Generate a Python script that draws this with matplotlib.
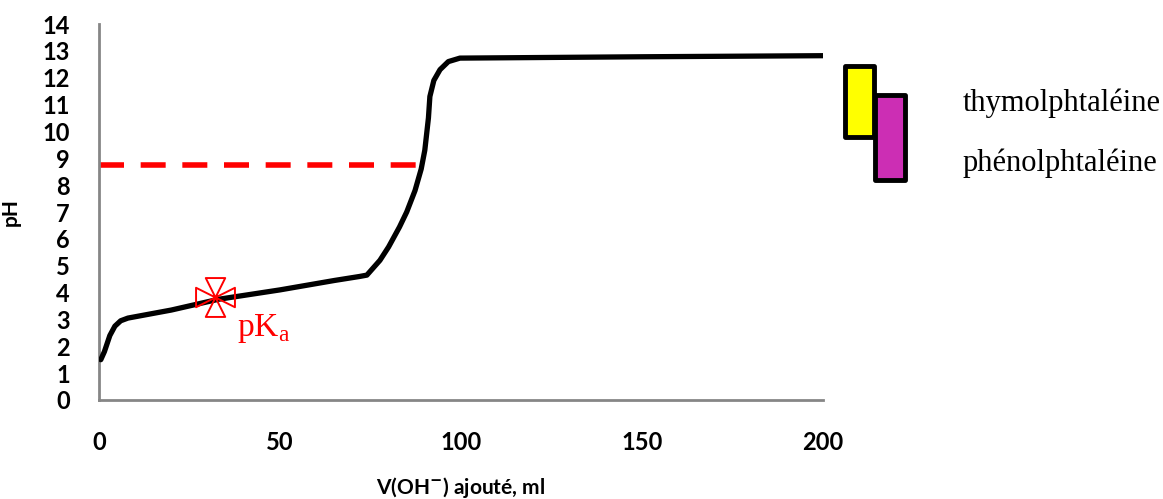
import matplotlib
matplotlib.use("Agg")
import matplotlib.pyplot as plt
from matplotlib.path import Path
from matplotlib.patches import Rectangle

# Data
volume = [0.5, 1.5, 3.0, 4.4, 6.0, 8.0, 20, 33, 50, 65, 72, 74, 77.6, 80, 83, 85, 87.3, 89, 90, 91, 91.4, 92.5, 94.2, 96.5, 99.7, 120, 150, 200]
ph = [1.5, 1.8, 2.4, 2.75, 2.95, 3.05, 3.35, 3.75, 4.1, 4.45, 4.6, 4.65, 5.2, 5.7, 6.44, 7.0, 7.8, 8.6, 9.3, 10.5, 11.3, 11.9, 12.3, 12.6, 12.73, 12.75, 12.78, 12.82]
equiv_ph = 8.75
equiv_v = 88
pka_v, pka_ph = 32, 3.83
indicators = ["thymolphtaléine", "phénolphtaléine"]
ind_low = [9.79, 8.19]
ind_high = [12.43, 11.35]
ind_colors = ["#FFFF00", "#CC2EB4"]
xticks = [0, 50, 100, 150, 200]
yticks = list(range(0, 15))

fig = plt.figure(figsize=(11.63, 4.99), dpi=100)
ax = fig.add_axes([0.0851, 0.1984, 0.6226, 0.7535])

ax.plot(volume, ph, color="black", lw=3.8, solid_capstyle="round", solid_joinstyle="round", zorder=3)
ax.plot([0, equiv_v], [equiv_ph, equiv_ph], color="#FF0000", lw=4, ls=(0, (4.5, 3)), zorder=2)

# pKa marker: four inward triangles
verts = []
codes = []
tris = [
    [(0, 0), (-0.5, 1), (0.5, 1)],
    [(0, 0), (-0.5, -1), (0.5, -1)],
    [(0, 0), (-1, 0.5), (-1, -0.5)],
    [(0, 0), (1, 0.5), (1, -0.5)],
]
for t in tris:
    verts += t + [t[0]]
    codes += [Path.MOVETO, Path.LINETO, Path.LINETO, Path.CLOSEPOLY]
marker_path = Path(verts, codes)
ax.plot([pka_v], [pka_ph], marker=marker_path, markersize=28, markerfacecolor="none",
        markeredgecolor="#FF0000", markeredgewidth=1.4, ls="none", zorder=4)
ax.text(pka_v + 6, pka_ph - 1.15, "pK$_\\mathregular{a}$", color="#FF0000", fontsize=24,
        family="Liberation Serif", ha="left", va="center", zorder=4)

ax.set_xlim(0, 200)
ax.set_ylim(0, 14)
ax.set_xticks(xticks)
ax.set_yticks(yticks)
ax.tick_params(length=0, labelsize=17)
ax.tick_params(axis="x", pad=22)
ax.tick_params(axis="y", pad=21)
for lab in ax.get_xticklabels() + ax.get_yticklabels():
    lab.set_fontweight("bold")
    lab.set_family("Lato")
for sp in ["top", "right"]:
    ax.spines[sp].set_visible(False)
for sp in ["left", "bottom"]:
    ax.spines[sp].set_color("#868686")
    ax.spines[sp].set_linewidth(2)

ax.set_ylabel("pH", fontsize=15, fontweight="bold", family="Lato")
ax.yaxis.set_label_coords(-0.108, 0.5)
fig.text(0.5 * (0.0851 + 0.7077), 0.024, "V(OH$^{\\mathbf{-}}$) ajouté, ml", fontsize=15,
         fontweight="bold", family="Lato", ha="center", va="center")

# Indicator bars
xs = [206, 214.4]
w = 8.2
for i, (lo, hi, c) in enumerate(zip(ind_low, ind_high, ind_colors)):
    r = Rectangle((xs[i], lo), w, hi - lo, facecolor=c, edgecolor="black", lw=3.5,
                  clip_on=False, zorder=5 - i, joinstyle="round")
    ax.add_patch(r)
fig.text(0.828, 0.794, indicators[0], fontsize=22, family="Liberation Serif", ha="left", va="center")
fig.text(0.828, 0.673, indicators[1], fontsize=22, family="Liberation Serif", ha="left", va="center")

fig.savefig("out.png", dpi=100)
